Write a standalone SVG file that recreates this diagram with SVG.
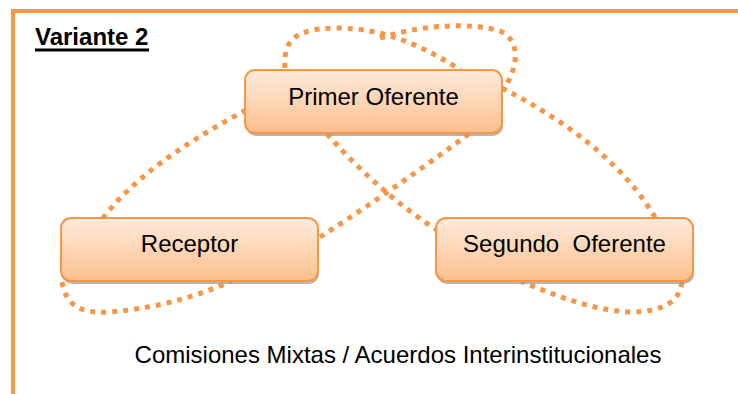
<svg xmlns="http://www.w3.org/2000/svg" width="738" height="394" viewBox="0 0 738 394">
<defs>
<linearGradient id="g" x1="0" y1="0" x2="0" y2="1">
<stop offset="0" stop-color="#FEEBDD"/>
<stop offset="1" stop-color="#FBBF8C"/>
</linearGradient>
<style>
.frame{fill:#F79646}
.dot{fill:none;stroke:#F79646;stroke-width:5;stroke-dasharray:5 6;stroke-linecap:butt}
.shadow{fill:#9E9E9E;opacity:0.75}
.box{fill:url(#g);stroke:#F79646;stroke-width:2}
.lbl{font-family:"Liberation Sans",Arial,sans-serif;font-size:24px;fill:#000;text-anchor:middle}
.title{font-family:"Liberation Sans",Arial,sans-serif;font-size:24px;font-weight:bold;fill:#000}
</style>
</defs>
<rect width="738" height="394" fill="#fff"/>
<g id="frame">
<rect class="frame" x="11" y="9" width="727" height="4"/>
<rect class="frame" x="11" y="9" width="4" height="385"/>
</g>
<g id="title">
<text class="title" x="35" y="45">Variante 2</text>
<rect x="35" y="48.5" width="114" height="3" fill="#000"/>
</g>
<g id="connectors">
<path class="dot" d="M246,110 C200,135 140,170 103,218"/>
<path class="dot" d="M327,134 C350,160 390,200 437,230"/>
<path class="dot" d="M502,88 C560,118 622,160 656,219"/>
<path class="dot" d="M320,237 C370,205 420,170 470,133"/>
<path class="dot" d="M285,68 C283,40 295,29 335,28 C385,28 420,45 461,70"/>
<path class="dot" d="M380,38 C420,25 470,22 500,31 C520,40 520,65 503,90"/>
<path class="dot" d="M62,282 C66,305 80,314 110,312 C160,308 200,295 232,281"/>
<path class="dot" d="M520,281 C555,295 590,310 630,312 C665,312 680,300 682,282"/>
</g>
<g id="node-primer">
<rect class="shadow" x="246" y="73" width="257" height="63" rx="10"/>
<rect class="box" x="245" y="70" width="257" height="63" rx="10"/>
<text class="lbl" x="373.5" y="105">Primer Oferente</text>
</g>
<g id="node-receptor">
<rect class="shadow" x="62" y="221" width="257" height="63" rx="10"/>
<rect class="box" x="61" y="218" width="257" height="63" rx="10"/>
<text class="lbl" x="189.5" y="252">Receptor</text>
</g>
<g id="node-segundo">
<rect class="shadow" x="437" y="221" width="257" height="63" rx="10"/>
<rect class="box" x="436" y="218" width="257" height="63" rx="10"/>
<text class="lbl" x="564.5" y="252" xml:space="preserve">Segundo  Oferente</text>
</g>
<g id="caption">
<text class="lbl" x="398" y="363">Comisiones Mixtas / Acuerdos Interinstitucionales</text>
</g>
</svg>
